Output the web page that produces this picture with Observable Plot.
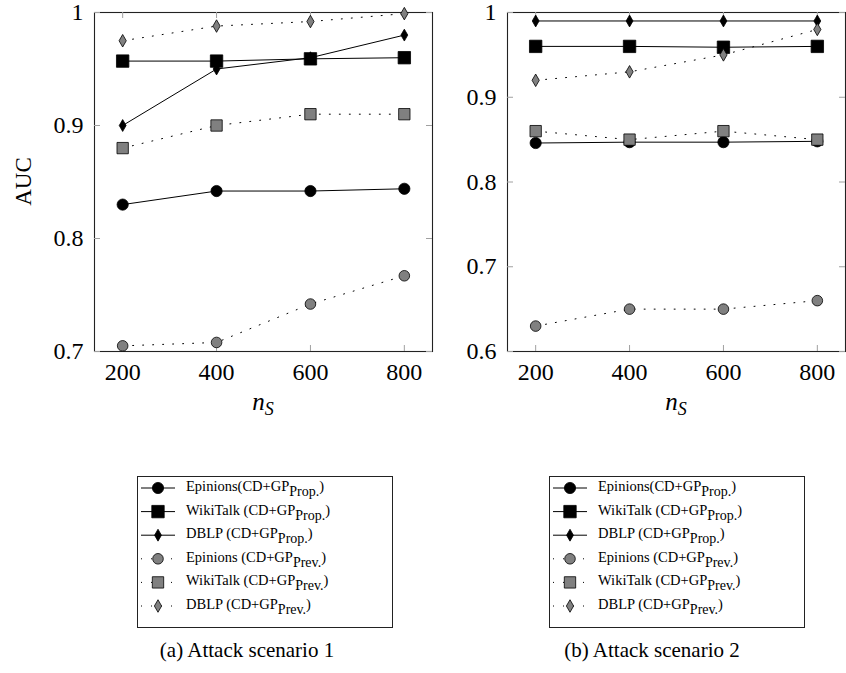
<!DOCTYPE html>
<html><head><meta charset="utf-8">
<script src="https://cdn.jsdelivr.net/npm/d3@7"></script>
<script src="https://cdn.jsdelivr.net/npm/@observablehq/plot@0.6"></script>
<style>
body{margin:0;background:#fff;font-family:"Liberation Serif",serif;}
#root{position:relative;width:846px;height:673px;overflow:hidden;}
.abs{position:absolute;}
.caption{position:absolute;font-size:21px;color:#000;white-space:nowrap;transform:translateX(-50%);font-family:"Liberation Serif",serif;}
</style></head><body><div id="root"></div>
<script>
// ---- data ----
const nS = [200, 400, 600, 800];
const xTicks = [200, 400, 600, 800];
const yTicksA = [0.7, 0.8, 0.9, 1];
const yTickLabelsA = ["0.7", "0.8", "0.9", "1"];
const yTicksB = [0.6, 0.7, 0.8, 0.9, 1];
const yTickLabelsB = ["0.6", "0.7", "0.8", "0.9", "1"];
const seriesNames = ["Epinions(CD+GP", "WikiTalk (CD+GP", "DBLP (CD+GP", "Epinions (CD+GP", "WikiTalk (CD+GP", "DBLP (CD+GP"];
const seriesSubs = ["Prop.", "Prop.", "Prop.", "Prev.", "Prev.", "Prev."];

// scenario 1
const a_epinionsProp = [0.830, 0.842, 0.842, 0.844];
const a_wikiTalkProp = [0.957, 0.957, 0.959, 0.960];
const a_dblpProp     = [0.900, 0.950, 0.960, 0.980];
const a_epinionsPrev = [0.705, 0.708, 0.742, 0.767];
const a_wikiTalkPrev = [0.880, 0.900, 0.910, 0.910];
const a_dblpPrev     = [0.975, 0.988, 0.992, 0.999];
// scenario 2
const b_epinionsProp = [0.846, 0.847, 0.847, 0.848];
const b_wikiTalkProp = [0.960, 0.960, 0.959, 0.960];
const b_dblpProp     = [0.990, 0.990, 0.990, 0.990];
const b_epinionsPrev = [0.630, 0.650, 0.650, 0.660];
const b_wikiTalkPrev = [0.860, 0.850, 0.860, 0.850];
const b_dblpPrev     = [0.920, 0.930, 0.950, 0.980];

const yLabel = "AUC";
const captions = ["(a) Attack scenario 1", "(b) Attack scenario 2"];

// ---- styles ----
const styles = [
  {symbol: "circle", r: 5.6, fill: "black", dash: null},
  {symbol: "square", r: 7.0, fill: "black", dash: null},
  {symbol: "diamond", r: 3.6, fill: "black", dash: null},
  {symbol: "circle", r: 5.3, fill: "#808080", dash: "1,9"},
  {symbol: "square", r: 6.4, fill: "#808080", dash: "1,9"},
  {symbol: "diamond", r: 3.8, fill: "#808080", dash: "1,9"}
];
const symMap = {circle: d3.symbolCircle, square: d3.symbolSquare, diamond: d3.symbolDiamond};
const FONT = "Liberation Serif, serif";

function makePanel(series, yDomain, yTicks, yLabels, width, marginLeft, marginRight, withYLabel) {
  const marginTop = 12, frameBottom = 351, height = 421;
  const marginBottom = height - frameBottom;
  const fw = width - marginLeft - marginRight, fh = frameBottom - marginTop;
  const tickColor = "#a0a0a0";
  const marks = [
    Plot.frame({stroke: "#222", strokeWidth: 1.1}),
    Plot.tickY(yTicks, {y: d => d, stroke: tickColor, insetRight: fw - 6}),
    Plot.tickY(yTicks, {y: d => d, stroke: tickColor, insetLeft: fw - 6}),
    Plot.tickX(xTicks, {x: d => d, stroke: tickColor, insetTop: fh - 6}),
    Plot.tickX(xTicks, {x: d => d, stroke: tickColor, insetBottom: fh - 6}),
    Plot.axisX(xTicks, {tickSize: 0, tickPadding: 11, fontSize: 24, label: null, tickFormat: d => String(d)}),
    Plot.axisY(yTicks, {tickSize: 0, tickPadding: 11, fontSize: 24, label: null, tickFormat: d => yLabels[yTicks.indexOf(d)]})
  ];
  series.forEach((vals, i) => {
    const st = styles[i];
    const rows = vals.map((v, j) => ({x: nS[j], y: v}));
    marks.push(Plot.line(rows, {x: "x", y: "y", stroke: "black", strokeWidth: 1, strokeDasharray: st.dash}));
    marks.push(Plot.dot(rows, {x: "x", y: "y", symbol: st.symbol, r: st.r, fill: st.fill, stroke: "black", strokeWidth: 0.8}));
  });
  const svg = Plot.plot({
    width, height, marginTop, marginRight, marginBottom, marginLeft,
    x: {domain: [140, 860], axis: null},
    y: {domain: yDomain, axis: null},
    style: {fontFamily: FONT, color: "black", background: "transparent", overflow: "visible"},
    marks
  });
  const s = d3.select(svg);
  const cx = marginLeft + fw / 2;
  const t = s.append("text").attr("x", cx).attr("y", 410).attr("text-anchor", "middle")
    .style("font-family", FONT).style("font-size", "25px").style("font-style", "italic").attr("fill", "black");
  t.append("tspan").text("n");
  t.append("tspan").attr("dy", 5).style("font-size", "18px").text("S");
  if (withYLabel) {
    s.append("text").attr("transform", `translate(26,${(marginTop + frameBottom) / 2}) rotate(-90)`)
      .attr("text-anchor", "middle").attr("dominant-baseline", "middle")
      .style("font-family", FONT).style("font-size", "23px").attr("fill", "black").text(yLabel);
  }
  return svg;
}

function makeLegend() {
  const w = 256, h = 152;
  const svg = d3.create("svg").attr("width", w).attr("height", h);
  svg.append("rect").attr("x", 0.5).attr("y", 0.5).attr("width", w - 1).attr("height", h - 1)
    .attr("fill", "white").attr("stroke", "#222").attr("stroke-width", 1);
  seriesNames.forEach((name, i) => {
    const y = 12 + i * 23.6;
    const st = styles[i];
    svg.append("line").attr("x1", 4).attr("x2", 38).attr("y1", y).attr("y2", y)
      .attr("stroke", "black").attr("stroke-width", 1).attr("stroke-dasharray", st.dash);
    svg.append("path").attr("transform", `translate(21,${y})`)
      .attr("d", d3.symbol(symMap[st.symbol], st.r * st.r * Math.PI)())
      .attr("fill", st.fill).attr("stroke", "black").attr("stroke-width", 0.8);
    const t = svg.append("text").attr("x", 49).attr("y", y + 3)
      .style("font-family", FONT).style("font-size", "14.5px").attr("fill", "black");
    t.append("tspan").text(name);
    t.append("tspan").attr("dy", 5).style("font-size", "14px").text(seriesSubs[i]);
    t.append("tspan").attr("dy", -5).text(")");
  });
  return svg.node();
}

const root = document.getElementById("root");
function place(node, left, top) {
  const d = document.createElement("div");
  d.className = "abs"; d.style.left = left + "px"; d.style.top = top + "px";
  d.appendChild(node); root.appendChild(d);
}
place(makePanel([a_epinionsProp, a_wikiTalkProp, a_dblpProp, a_epinionsPrev, a_wikiTalkPrev, a_dblpPrev],
  [0.7, 1], yTicksA, yTickLabelsA, 434, 94, 2, true), 0, 0);
place(makePanel([b_epinionsProp, b_wikiTalkProp, b_dblpProp, b_epinionsPrev, b_wikiTalkPrev, b_dblpPrev],
  [0.6, 1], yTicksB, yTickLabelsB, 416, 77, 1, false), 430, 0);
place(makeLegend(), 137, 476);
place(makeLegend(), 549, 476);
[[247, captions[0]], [652, captions[1]]].forEach(([x, txt]) => {
  const c = document.createElement("div");
  c.className = "caption"; c.style.left = x + "px"; c.style.top = 638 + "px";
  c.textContent = txt; root.appendChild(c);
});
</script>
</body></html>
